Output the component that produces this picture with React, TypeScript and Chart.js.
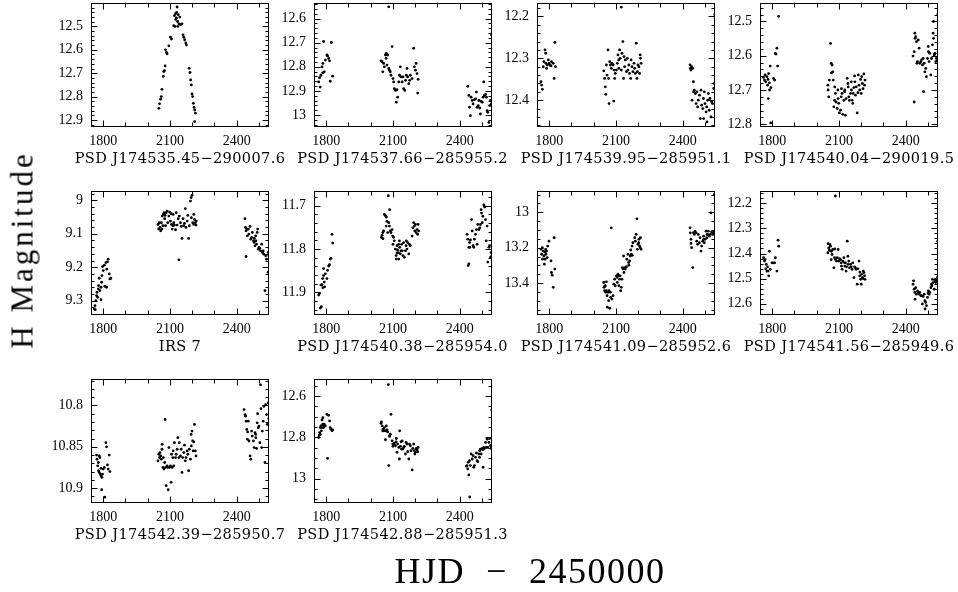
import React, { useEffect, useRef } from 'react';
import { Chart, registerables } from 'chart.js';
Chart.register(...registerables);

type Pt = [number, number];

// ---- shared axis values ----
const xMin = 1745;
const xMax = 2545;
const xTickValues = [1800, 1900, 2000, 2100, 2200, 2300, 2400, 2500];
const xTickLabels = [1800, 2100, 2400];

const starNames = [
  'PSD J174535.45\u2212290007.6',
  'PSD J174537.66\u2212285955.2',
  'PSD J174539.95\u2212285951.1',
  'PSD J174540.04\u2212290019.5',
  'IRS 7',
  'PSD J174540.38\u2212285954.0',
  'PSD J174541.09\u2212285952.6',
  'PSD J174541.56\u2212285949.6',
  'PSD J174542.39\u2212285950.7',
  'PSD J174542.88\u2212285951.3',
];

// y ranges (magnitude, reversed axes)
const yMins = [12.4, 12.535, 12.168, 12.446, 8.972, 11.666, 12.88, 12.151, 10.768, 12.517];
const yMaxs = [12.93, 13.05, 12.464, 12.808, 9.343, 11.952, 13.58, 12.645, 10.918, 13.117];
const yTickLabels: number[][] = [
  [12.5, 12.6, 12.7, 12.8, 12.9],
  [12.6, 12.7, 12.8, 12.9, 13],
  [12.2, 12.3, 12.4],
  [12.5, 12.6, 12.7, 12.8],
  [9, 9.1, 9.2, 9.3],
  [11.7, 11.8, 11.9],
  [13, 13.2, 13.4],
  [12.2, 12.3, 12.4, 12.5, 12.6],
  [10.8, 10.85, 10.9],
  [12.6, 12.8, 13],
];
const yMinorSteps = [0.02, 0.02, 0.02, 0.02, 0.02, 0.02, 0.05, 0.02, 0.01, 0.05];

// ---- light curves: [HJD-2450000, H mag] ----
const star1: Pt[] = [
  [2050,12.85],[2053,12.831],[2058,12.811],[2061,12.8],[2064,12.769],[2070,12.714],[2072,12.693],[2075,12.689],[2078,12.669],[2080,12.6],[2084,12.611],[2087,12.617],[2095,12.583],[2102,12.546],[2107,12.554],[2117,12.497],[2120,12.454],[2122,12.5],[2125,12.446],[2126,12.47],[2129,12.464],[2130,12.44],[2132,12.417],[2134,12.479],[2135,12.5],[2137,12.45],[2140,12.489],[2144,12.46],[2147,12.493],[2154,12.489],[2159,12.536],[2162,12.546],[2166,12.557],[2171,12.571],[2174,12.58],[2186,12.679],[2190,12.697],[2193,12.729],[2196,12.75],[2199,12.789],[2202,12.8],[2205,12.829],[2208,12.846],[2211,12.857],[2214,12.871],[2211,12.907],
];
const star2: Pt[] = [
  [1766,12.863],[1770,12.845],[1773,12.884],[1776,12.835],[1781,12.8],[1784,12.825],[1785,12.786],[1788,12.695],[1791,12.821],[1796,12.772],[1803,12.751],[1806,12.755],[1811,12.765],[1815,12.775],[1818,12.86],[1823,12.699],[1829,12.839],
  [2046,12.775],[2051,12.779],[2054,12.821],[2058,12.786],[2061,12.8],[2066,12.751],[2069,12.765],[2070,12.744],[2073,12.793],[2076,12.751],[2081,12.807],[2084,12.814],[2088,12.821],[2091,12.835],[2096,12.716],[2100,12.849],[2103,12.863],[2106,12.891],[2111,12.898],[2115,12.947],[2118,12.895],[2121,12.926],[2126,12.863],[2129,12.835],[2133,12.8],[2136,12.842],[2141,12.863],[2145,12.842],[2148,12.891],[2153,12.898],[2156,12.856],[2160,12.835],[2163,12.807],[2166,12.842],[2171,12.87],[2175,12.856],[2178,12.835],[2186,12.849],[2193,12.723],[2196,12.8],[2201,12.814],[2204,12.786],[2208,12.828],[2211,12.909],[2213,12.852],[2081,12.551],
  [2436,12.881],[2441,12.919],[2444,12.968],[2448,13.003],[2451,12.926],[2456,12.94],[2460,12.954],[2466,12.937],[2471,12.933],[2475,12.905],[2478,12.968],[2483,12.961],[2486,12.94],[2490,12.971],[2493,12.996],[2496,12.943],[2501,12.947],[2505,12.926],[2508,12.863],[2511,12.919],[2516,12.915],[2520,12.926],[2523,12.982],[2526,12.989],[2531,13.031],[2535,12.961],[2538,12.94],[2541,12.954],[2543,12.667],
];
const star3: Pt[] = [
  [1763,12.356],[1766,12.364],[1769,12.374],[1773,12.32],[1776,12.308],[1781,12.28],[1784,12.288],[1785,12.312],[1788,12.324],[1791,12.316],[1796,12.304],[1799,12.312],[1803,12.316],[1808,12.318],[1810,12.308],[1818,12.312],[1822,12.348],[1825,12.262],[1828,12.32],
  [2045,12.33],[2049,12.348],[2052,12.368],[2054,12.386],[2057,12.316],[2060,12.34],[2064,12.28],[2067,12.348],[2069,12.408],[2072,12.308],[2075,12.316],[2079,12.324],[2082,12.312],[2087,12.316],[2090,12.402],[2091,12.328],[2094,12.348],[2097,12.336],[2102,12.328],[2106,12.312],[2109,12.292],[2112,12.304],[2113,12.324],[2116,12.28],[2119,12.3],[2124,12.328],[2127,12.288],[2131,12.26],[2134,12.348],[2136,12.296],[2139,12.32],[2142,12.304],[2147,12.332],[2151,12.3],[2154,12.328],[2158,12.316],[2161,12.336],[2166,12.348],[2168,12.304],[2172,12.32],[2176,12.332],[2181,12.312],[2184,12.324],[2187,12.336],[2191,12.264],[2194,12.348],[2196,12.332],[2199,12.316],[2203,12.32],[2206,12.336],[2209,12.292],[2210,12.3],[2213,12.312],[2124,12.178],
  [2433,12.316],[2434,12.324],[2437,12.328],[2440,12.32],[2445,12.324],[2448,12.356],[2442,12.4],[2449,12.38],[2452,12.376],[2457,12.384],[2460,12.408],[2464,12.38],[2467,12.416],[2470,12.4],[2475,12.388],[2479,12.444],[2482,12.376],[2485,12.412],[2490,12.42],[2493,12.396],[2494,12.444],[2497,12.38],[2500,12.408],[2505,12.428],[2508,12.416],[2509,12.452],[2512,12.4],[2515,12.384],[2519,12.424],[2522,12.396],[2527,12.44],[2530,12.404],[2534,12.408],[2539,12.372],[2542,12.36],[2544,12.196],
];
const star4: Pt[] = [
  [1761,12.663],[1765,12.671],[1768,12.656],[1771,12.676],[1776,12.661],[1779,12.686],[1781,12.669],[1784,12.652],[1787,12.679],[1788,12.7],[1791,12.63],[1794,12.693],[1782,12.725],[1793,12.796],[1806,12.666],[1811,12.671],[1814,12.593],[1817,12.595],[1821,12.578],[1824,12.63],[1829,12.485],
  [2050,12.686],[2051,12.7],[2054,12.72],[2057,12.671],[2062,12.564],[2065,12.622],[2066,12.65],[2069,12.627],[2072,12.647],[2074,12.671],[2077,12.749],[2080,12.73],[2081,12.691],[2084,12.71],[2087,12.735],[2092,12.754],[2095,12.7],[2096,12.725],[2099,12.739],[2102,12.767],[2107,12.759],[2110,12.72],[2111,12.696],[2114,12.71],[2117,12.771],[2122,12.73],[2125,12.705],[2126,12.7],[2129,12.774],[2132,12.725],[2137,12.666],[2140,12.681],[2141,12.691],[2144,12.72],[2147,12.73],[2152,12.71],[2155,12.676],[2156,12.7],[2159,12.73],[2162,12.739],[2164,12.71],[2167,12.693],[2170,12.659],[2171,12.676],[2174,12.715],[2177,12.691],[2182,12.767],[2185,12.708],[2187,12.656],[2190,12.686],[2193,12.7],[2197,12.669],[2200,12.71],[2202,12.661],[2205,12.681],[2208,12.696],[2212,12.653],[2215,12.686],[2217,12.671],
  [2433,12.601],[2438,12.588],[2441,12.534],[2442,12.549],[2445,12.544],[2448,12.559],[2438,12.735],[2450,12.622],[2453,12.617],[2456,12.554],[2460,12.578],[2463,12.622],[2468,12.617],[2471,12.612],[2475,12.627],[2478,12.608],[2480,12.705],[2483,12.622],[2486,12.647],[2490,12.637],[2493,12.661],[2498,12.608],[2501,12.573],[2502,12.588],[2505,12.617],[2508,12.593],[2513,12.656],[2516,12.608],[2520,12.568],[2523,12.534],[2525,12.549],[2528,12.598],[2531,12.593],[2532,12.593],[2535,12.617],[2538,12.608],[2542,12.612],[2543,12.603],[2544,12.48],[2525,12.5],
];
const irs7: Pt[] = [
  [1760,9.325],[1763,9.315],[1767,9.3],[1770,9.285],[1772,9.275],[1775,9.29],[1778,9.265],[1779,9.255],[1782,9.233],[1785,9.27],[1790,9.26],[1793,9.245],[1794,9.225],[1797,9.198],[1800,9.21],[1805,9.194],[1807,9.257],[1812,9.186],[1815,9.26],[1816,9.206],[1819,9.184],[1822,9.176],[1827,9.22],[1830,9.235],[1834,9.233],[1764,9.327],[1790,9.297],
  [2046,9.072],[2049,9.086],[2052,9.067],[2055,9.081],[2058,9.091],[2061,9.067],[2064,9.086],[2065,9.047],[2068,9.076],[2070,9.042],[2073,9.037],[2076,9.055],[2078,9.045],[2080,9.076],[2083,9.037],[2087,9.032],[2090,9.067],[2095,9.047],[2098,9.035],[2102,9.062],[2105,9.04],[2107,9.072],[2110,9.086],[2113,9.076],[2114,9.042],[2117,9.067],[2120,9.074],[2125,9.088],[2128,9.037],[2132,9.074],[2137,9.055],[2140,9.178],[2142,9.047],[2147,9.067],[2151,9.078],[2154,9.114],[2159,9.055],[2162,9.076],[2165,9.069],[2169,9.025],[2172,9.081],[2177,9.062],[2180,9.045],[2184,9.114],[2187,9.076],[2192,9.002],[2195,8.992],[2199,8.985],[2196,9.052],[2202,9.067],[2207,9.072],[2210,9.057],[2214,9.067],[2217,9.074],[2218,9.062],[2207,9.042],
  [2437,9.055],[2440,9.081],[2442,9.091],[2445,9.086],[2448,9.106],[2442,9.168],[2452,9.086],[2455,9.101],[2460,9.078],[2463,9.116],[2467,9.111],[2470,9.096],[2475,9.121],[2478,9.126],[2479,9.114],[2482,9.136],[2485,9.106],[2486,9.121],[2489,9.131],[2492,9.096],[2494,9.086],[2497,9.146],[2500,9.141],[2504,9.144],[2507,9.151],[2512,9.131],[2515,9.156],[2519,9.151],[2522,9.161],[2527,9.27],[2530,9.166],[2534,9.176],[2541,9.215],[2544,9.166],[2541,9.156],
];
const star6: Pt[] = [
  [1766,11.906],[1770,11.902],[1773,11.936],[1776,11.883],[1778,11.933],[1781,11.882],[1784,11.868],[1785,11.889],[1788,11.861],[1791,11.876],[1793,11.887],[1788,11.845],[1796,11.857],[1803,11.868],[1806,11.849],[1811,11.839],[1815,11.836],[1818,11.823],[1821,11.821],[1826,11.766],[1829,11.786],
  [2048,11.773],[2051,11.768],[2054,11.762],[2055,11.776],[2058,11.758],[2061,11.72],[2066,11.723],[2069,11.747],[2070,11.726],[2073,11.736],[2076,11.762],[2079,11.677],[2081,11.739],[2084,11.747],[2085,11.709],[2088,11.758],[2091,11.762],[2096,11.755],[2099,11.77],[2100,11.789],[2103,11.773],[2106,11.781],[2111,11.8],[2114,11.815],[2115,11.823],[2118,11.792],[2121,11.802],[2124,11.808],[2126,11.823],[2129,11.781],[2130,11.796],[2133,11.811],[2136,11.804],[2139,11.789],[2142,11.804],[2145,11.815],[2148,11.785],[2151,11.819],[2156,11.804],[2159,11.792],[2160,11.781],[2163,11.8],[2166,11.785],[2171,11.811],[2174,11.789],[2178,11.792],[2186,11.77],[2189,11.751],[2193,11.739],[2196,11.747],[2198,11.758],[2201,11.743],[2204,11.762],[2208,11.755],[2211,11.766],[2213,11.743],[2216,11.758],[2118,11.809],[2126,11.789],
  [2433,11.766],[2436,11.777],[2441,11.796],[2444,11.785],[2441,11.834],[2438,11.838],[2445,11.796],[2448,11.779],[2453,11.732],[2456,11.758],[2460,11.792],[2463,11.796],[2466,11.777],[2471,11.766],[2475,11.755],[2478,11.789],[2481,11.743],[2486,11.755],[2490,11.751],[2493,11.743],[2496,11.709],[2498,11.717],[2501,11.739],[2504,11.724],[2508,11.698],[2511,11.702],[2513,11.703],[2516,11.732],[2519,11.781],[2523,11.747],[2526,11.83],[2531,11.796],[2534,11.792],[2538,11.819],[2541,11.808],[2544,11.815],[2544,11.762],
];
const star7: Pt[] = [
  [1763,13.209],[1766,13.237],[1769,13.2],[1770,13.265],[1773,13.219],[1776,13.247],[1778,13.293],[1781,13.265],[1781,13.224],[1784,13.209],[1785,13.237],[1788,13.219],[1791,13.256],[1793,13.191],[1799,13.163],[1808,13.275],[1810,13.34],[1813,13.355],[1818,13.424],[1822,13.144],[1825,13.321],
  [2045,13.396],[2046,13.424],[2049,13.443],[2052,13.415],[2054,13.452],[2057,13.393],[2060,13.471],[2061,13.536],[2064,13.452],[2067,13.499],[2069,13.443],[2072,13.542],[2075,13.452],[2076,13.48],[2079,13.088],[2082,13.49],[2087,13.471],[2090,13.406],[2094,13.378],[2097,13.415],[2102,13.359],[2105,13.368],[2106,13.396],[2109,13.35],[2112,13.359],[2113,13.415],[2116,13.378],[2119,13.359],[2121,13.443],[2124,13.424],[2127,13.378],[2128,13.312],[2131,13.321],[2134,13.247],[2136,13.34],[2139,13.312],[2142,13.321],[2147,13.307],[2149,13.265],[2154,13.237],[2157,13.284],[2158,13.299],[2161,13.275],[2164,13.247],[2166,13.213],[2169,13.237],[2172,13.191],[2173,13.243],[2176,13.172],[2184,13.144],[2187,13.163],[2191,13.125],[2194,13.037],[2196,13.209],[2199,13.181],[2202,13.172],[2203,13.153],[2206,13.191],[2209,13.2],[2210,13.144],[2213,13.209],[2049,13.419],[2057,13.443],
  [2433,13.088],[2434,13.116],[2437,13.153],[2440,13.2],[2437,13.176],[2445,13.312],[2448,13.116],[2452,13.125],[2455,13.107],[2460,13.116],[2463,13.163],[2467,13.181],[2470,13.125],[2475,13.172],[2478,13.144],[2482,13.219],[2485,13.191],[2490,13.163],[2493,13.153],[2494,13.135],[2497,13.172],[2500,13.153],[2505,13.107],[2508,13.144],[2509,13.125],[2512,13.125],[2515,13.107],[2519,13.135],[2524,13.125],[2527,13.004],[2530,13.112],[2534,13.125],[2539,13.12],[2542,13.107],[2542,12.901],
];
const star8: Pt[] = [
  [1761,12.417],[1765,12.43],[1768,12.424],[1771,12.461],[1773,12.443],[1776,12.47],[1779,12.453],[1781,12.47],[1784,12.489],[1787,12.391],[1791,12.463],[1799,12.437],[1806,12.437],[1811,12.437],[1814,12.417],[1821,12.47],[1826,12.347],[1829,12.371],
  [2050,12.397],[2051,12.361],[2054,12.378],[2057,12.387],[2059,12.364],[2062,12.371],[2065,12.424],[2066,12.391],[2069,12.404],[2072,12.384],[2077,12.457],[2080,12.417],[2081,12.382],[2084,12.424],[2089,12.43],[2092,12.417],[2096,12.384],[2099,12.43],[2102,12.421],[2107,12.424],[2110,12.437],[2111,12.45],[2114,12.463],[2117,12.43],[2122,12.417],[2125,12.437],[2126,12.45],[2129,12.437],[2132,12.47],[2134,12.453],[2137,12.351],[2140,12.411],[2141,12.443],[2144,12.43],[2147,12.457],[2152,12.443],[2155,12.453],[2159,12.463],[2162,12.437],[2167,12.496],[2170,12.453],[2174,12.457],[2177,12.463],[2182,12.522],[2185,12.461],[2190,12.43],[2193,12.489],[2194,12.474],[2197,12.503],[2200,12.522],[2202,12.483],[2205,12.496],[2208,12.5],[2209,12.47],[2212,12.476],[2215,12.489],[2217,12.503],[2084,12.171],
  [2433,12.522],[2435,12.509],[2438,12.542],[2441,12.555],[2445,12.536],[2448,12.562],[2442,12.582],[2453,12.549],[2457,12.555],[2460,12.562],[2463,12.555],[2468,12.568],[2471,12.568],[2475,12.601],[2478,12.571],[2483,12.562],[2486,12.588],[2487,12.621],[2490,12.595],[2493,12.608],[2498,12.575],[2501,12.558],[2502,12.549],[2505,12.562],[2508,12.555],[2513,12.536],[2516,12.522],[2517,12.529],[2520,12.503],[2523,12.516],[2528,12.542],[2531,12.509],[2532,12.503],[2535,12.516],[2538,12.509],[2542,12.496],[2543,12.509],[2544,12.351],[2544,12.516],
];
const star9: Pt[] = [
  [1770,10.86],[1772,10.865],[1775,10.873],[1778,10.869],[1779,10.879],[1782,10.881],[1782,10.861],[1785,10.863],[1787,10.883],[1790,10.885],[1790,10.876],[1793,10.902],[1794,10.887],[1797,10.883],[1800,10.877],[1805,10.875],[1807,10.911],[1812,10.845],[1815,10.85],[1819,10.872],[1822,10.877],[1827,10.86],[1830,10.88],
  [2046,10.867],[2050,10.859],[2053,10.863],[2055,10.857],[2058,10.861],[2061,10.865],[2064,10.853],[2065,10.847],[2068,10.875],[2070,10.863],[2073,10.877],[2076,10.869],[2078,10.817],[2080,10.875],[2083,10.897],[2087,10.873],[2090,10.875],[2092,10.902],[2095,10.851],[2098,10.875],[2102,10.873],[2105,10.893],[2107,10.859],[2110,10.875],[2113,10.863],[2114,10.855],[2117,10.873],[2120,10.845],[2125,10.863],[2128,10.859],[2132,10.853],[2135,10.839],[2140,10.863],[2142,10.845],[2147,10.861],[2150,10.853],[2154,10.881],[2157,10.863],[2162,10.857],[2165,10.848],[2169,10.867],[2172,10.863],[2177,10.855],[2180,10.859],[2184,10.879],[2187,10.853],[2192,10.865],[2195,10.835],[2196,10.849],[2199,10.831],[2202,10.843],[2204,10.855],[2207,10.844],[2210,10.823],[2214,10.855],[2217,10.861],
  [2433,10.805],[2437,10.811],[2440,10.813],[2442,10.819],[2445,10.829],[2448,10.841],[2449,10.832],[2452,10.819],[2455,10.843],[2460,10.861],[2463,10.865],[2467,10.831],[2470,10.837],[2475,10.843],[2478,10.851],[2482,10.833],[2485,10.835],[2486,10.839],[2489,10.852],[2492,10.821],[2494,10.81],[2497,10.827],[2500,10.825],[2504,10.845],[2507,10.775],[2509,10.804],[2512,10.851],[2515,10.831],[2519,10.819],[2522,10.801],[2527,10.869],[2530,10.799],[2534,10.811],[2537,10.823],[2541,10.797],[2544,10.816],
];
const star10: Pt[] = [
  [1766,12.8],[1769,12.789],[1770,12.776],[1773,12.752],[1773,12.784],[1776,12.744],[1778,12.768],[1781,12.715],[1781,12.752],[1784,12.736],[1785,12.704],[1788,12.752],[1788,12.741],[1791,12.736],[1796,12.744],[1803,12.688],[1806,12.901],[1811,12.693],[1815,12.72],[1818,12.752],[1821,12.76],[1826,12.768],[1829,12.763],
  [2046,12.731],[2048,12.725],[2051,12.744],[2054,12.768],[2055,12.76],[2058,12.768],[2061,12.752],[2063,12.768],[2066,12.811],[2069,12.768],[2070,12.744],[2073,12.763],[2076,12.773],[2079,12.544],[2081,12.936],[2084,12.792],[2085,12.795],[2088,12.784],[2091,12.688],[2096,12.816],[2099,12.832],[2100,12.843],[2103,12.832],[2106,12.827],[2111,12.84],[2114,12.821],[2115,12.805],[2118,12.872],[2121,12.832],[2126,12.848],[2129,12.904],[2130,12.768],[2133,12.843],[2136,12.821],[2138,12.856],[2141,12.816],[2145,12.856],[2148,12.848],[2151,12.843],[2156,12.88],[2159,12.824],[2163,12.832],[2166,12.869],[2171,12.904],[2174,12.832],[2178,12.84],[2181,12.864],[2186,12.957],[2189,12.853],[2193,12.832],[2196,12.864],[2198,12.88],[2201,12.872],[2204,12.856],[2205,12.853],[2208,12.859],[2211,12.869],[2213,12.848],
  [2430,12.939],[2433,12.936],[2436,12.952],[2438,12.92],[2441,12.981],[2444,12.912],[2445,13.088],[2448,12.936],[2451,12.88],[2456,12.904],[2460,12.888],[2463,12.944],[2466,12.936],[2471,12.896],[2475,12.875],[2478,12.912],[2481,12.917],[2486,12.88],[2489,12.896],[2490,12.864],[2493,12.856],[2496,12.88],[2501,12.853],[2504,12.859],[2505,12.944],[2508,12.848],[2511,12.853],[2516,12.824],[2519,12.848],[2523,12.808],[2526,12.848],[2531,12.824],[2534,12.805],[2538,12.84],[2541,12.853],[2544,12.667],[2543,12.843],
];

const starData: Pt[][] = [star1, star2, star3, star4, irs7, star6, star7, star8, star9, star10];

// ---- layout (pixels) ----
const COL_LEFT = [91, 313.5, 537, 760];
const ROW_TOP = [3, 191, 379];
const BOX_W = 178;
const BOX_H = 124;
const Y_AXIS_W = 55;
const X_AXIS_H = 30;
const PAD_T = 5;
const PAD_R = 10;
const CANVAS_W = Y_AXIS_W + BOX_W + PAD_R;
const CANVAS_H = PAD_T + BOX_H + X_AXIS_H;
const TITLE_OFFSET = 31;

function buildTicks(min: number, max: number, step: number): number[] {
  const out: number[] = [];
  const start = Math.ceil(min / step - 1e-9);
  for (let k = start; k * step <= max + 1e-9; k++) out.push(Math.round(k * step * 10000) / 10000);
  return out;
}

const framePlugin = {
  id: 'pgframe',
  afterDraw(chart: any) {
    const { ctx, chartArea: a, scales } = chart;
    const xs = scales.x;
    const ys = scales.y;
    ctx.save();
    ctx.strokeStyle = '#000';
    ctx.lineWidth = 1;
    const l = Math.round(a.left) + 0.5;
    const r = Math.round(a.right) - 0.5;
    const t = Math.round(a.top) + 0.5;
    const b = Math.round(a.bottom) - 0.5;
    ctx.strokeRect(l, t, r - l, b - t);
    ctx.beginPath();
    for (const tk of xs.ticks) {
      const px = Math.round(xs.getPixelForValue(tk.value)) + 0.5;
      const len = xTickLabels.includes(tk.value) ? 6 : 4;
      ctx.moveTo(px, b);
      ctx.lineTo(px, b - len);
      ctx.moveTo(px, t);
      ctx.lineTo(px, t + len);
    }
    for (const tk of ys.ticks) {
      const py = Math.round(ys.getPixelForValue(tk.value)) + 0.5;
      const len = tk.label !== '' ? 6 : 3;
      ctx.moveTo(l, py);
      ctx.lineTo(l + len, py);
      ctx.moveTo(r, py);
      ctx.lineTo(r - len, py);
    }
    ctx.stroke();
    ctx.restore();
  },
};

function Panel({ idx }: { idx: number }) {
  const ref = useRef<HTMLCanvasElement>(null);
  const col = idx % 4;
  const row = Math.floor(idx / 4);
  const left = COL_LEFT[col] - Y_AXIS_W;
  const top = ROW_TOP[row] - PAD_T;

  useEffect(() => {
    const yMin = yMins[idx];
    const yMax = yMaxs[idx];
    const yLabels = yTickLabels[idx];
    const yTicks = buildTicks(yMin, yMax, yMinorSteps[idx]);
    const tickFont = { family: 'Liberation Serif', size: 14 };
    const chart = new Chart(ref.current as HTMLCanvasElement, {
      type: 'scatter',
      data: {
        datasets: [
          {
            data: starData[idx].map(([x, y]) => ({ x, y })),
            pointRadius: 1.4,
            pointHoverRadius: 1.4,
            pointBackgroundColor: '#000',
            pointBorderWidth: 0,
            showLine: false,
          },
        ],
      },
      options: {
        animation: false,
        responsive: false,
        events: [],
        layout: { padding: { left: 0, top: PAD_T, right: PAD_R, bottom: 0 } },
        plugins: { legend: { display: false }, tooltip: { enabled: false } },
        scales: {
          x: {
            type: 'linear',
            min: xMin,
            max: xMax,
            grid: { display: false, drawTicks: false },
            border: { display: false },
            afterBuildTicks: (axis: any) => {
              axis.ticks = xTickValues.map((v) => ({ value: v }));
            },
            afterFit: (s: any) => {
              s.height = X_AXIS_H;
              s.paddingLeft = 0;
              s.paddingRight = 0;
            },
            ticks: {
              autoSkip: false,
              maxRotation: 0,
              padding: 6,
              color: '#000',
              font: tickFont,
              callback: (v: any) => (xTickLabels.includes(Number(v)) ? String(v) : ''),
            },
          },
          y: {
            type: 'linear',
            reverse: true,
            min: yMin,
            max: yMax,
            grid: { display: false, drawTicks: false },
            border: { display: false },
            afterBuildTicks: (axis: any) => {
              axis.ticks = yTicks.map((v) => ({ value: v }));
            },
            afterFit: (s: any) => {
              s.width = Y_AXIS_W;
              s.paddingTop = 0;
              s.paddingBottom = 0;
            },
            ticks: {
              autoSkip: false,
              padding: 8,
              color: '#000',
              font: tickFont,
              callback: (v: any) => {
                const n = Number(v);
                return yLabels.some((L) => Math.abs(L - n) < 1e-6) ? String(Math.round(n * 1000) / 1000) : '';
              },
            },
          },
        },
      },
      plugins: [framePlugin],
    } as any);
    return () => chart.destroy();
  }, [idx]);

  return (
    <>
      <canvas
        ref={ref}
        width={CANVAS_W}
        height={CANVAS_H}
        style={{ position: 'absolute', left, top, width: CANVAS_W, height: CANVAS_H }}
      />
      <div
        style={{
          position: 'absolute',
          left: COL_LEFT[col] + BOX_W / 2,
          top: ROW_TOP[row] + BOX_H + TITLE_OFFSET,
          transform: 'translate(-50%, -50%)',
          fontFamily: 'DejaVu Serif',
          fontSize: 14.5,
          letterSpacing: 0.4,
          whiteSpace: 'pre',
          color: '#000',
          lineHeight: 1,
        }}
      >
        {starNames[idx]}
      </div>
    </>
  );
}

export default function App() {
  return (
    <div style={{ position: 'absolute', left: 0, top: 0, width: 958, height: 592, background: '#fff', overflow: 'hidden' }}>
      {starData.map((_, i) => (
        <Panel key={i} idx={i} />
      ))}
      <div
        style={{
          position: 'absolute',
          left: 22,
          top: 250,
          transform: 'translate(-50%, -50%) rotate(-90deg)',
          fontFamily: 'Liberation Serif',
          fontSize: 31,
          letterSpacing: 3,
          whiteSpace: 'pre',
          color: '#000',
          lineHeight: 1,
        }}
      >
        H Magnitude
      </div>
      <div
        style={{
          position: 'absolute',
          left: 530,
          top: 571,
          transform: 'translate(-50%, -50%)',
          fontFamily: 'Liberation Serif',
          fontSize: 36,
          letterSpacing: 1.5,
          whiteSpace: 'pre',
          color: '#000',
          lineHeight: 1,
        }}
      >
        {'HJD  \u2212  2450000'}
      </div>
    </div>
  );
}
